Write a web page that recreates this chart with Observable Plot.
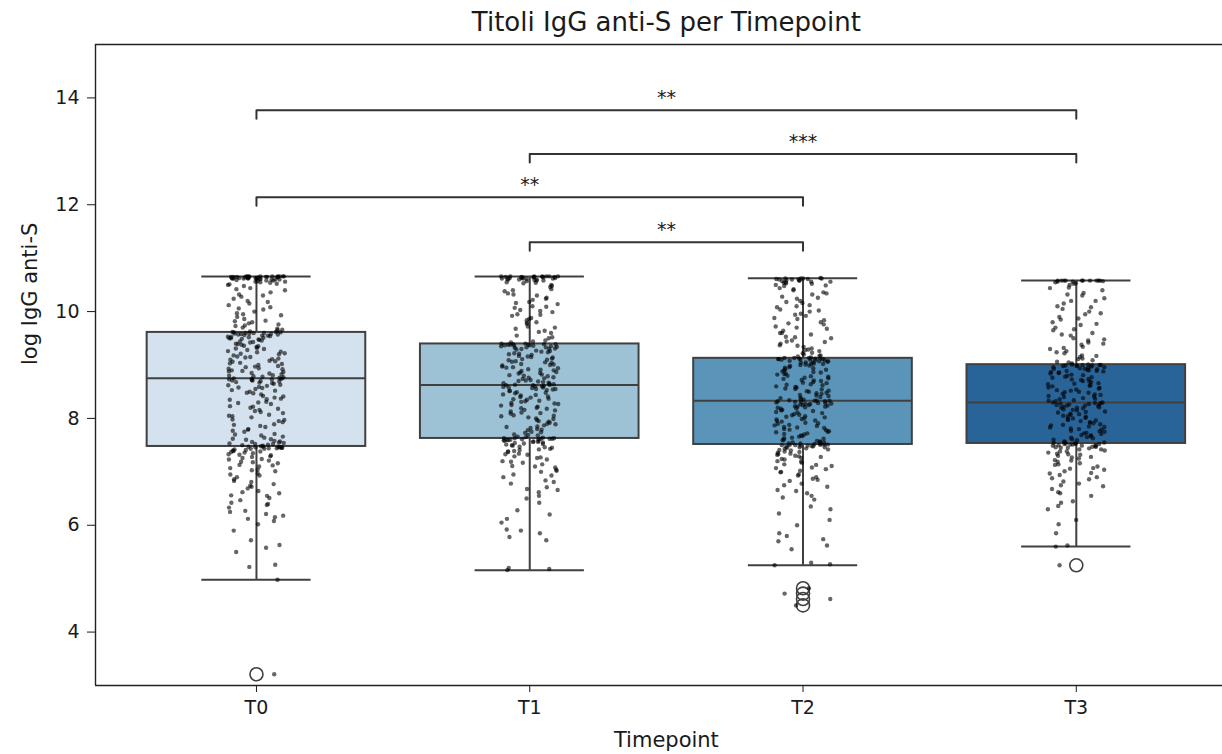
<!DOCTYPE html>
<html>
<head>
<meta charset="utf-8">
<script src="https://cdn.jsdelivr.net/npm/d3@7"></script>
<script src="https://cdn.jsdelivr.net/npm/@observablehq/plot@0.6"></script>
<style>
  html, body { margin: 0; padding: 0; background: #fff; overflow: hidden; }
  #chart svg { display: block; }
</style>
</head>
<body>
<div id="chart"></div>
<script>
// Timepoints and box colours (Blues, desaturated)
const timepoints = ["T0", "T1", "T2", "T3"];
const boxColors = ["#d4e1ee", "#9dc1d5", "#5a94b9", "#296499"];

// Box-plot summary per timepoint
const q1 = [7.475, 7.625, 7.512, 7.531];
const median = [8.75, 8.625, 8.331, 8.30];
const q3 = [9.61, 9.394, 9.125, 9.006];
const whiskerLow = [4.98, 5.157, 5.25, 5.60];
const whiskerHigh = [10.657, 10.657, 10.625, 10.58];

// Fliers beyond the whiskers
const outlierTimepoint = ["T0", "T2", "T2", "T2", "T2", "T3"];
const outlierValue = [3.21, 4.82, 4.72, 4.62, 4.50, 5.25];

// Individual observations (log IgG anti-S)
const valuesT0 = [
  3.21, 4.98, 5.22, 5.26, 5.58, 5.63, 5.72, 6.02, 6.08, 6.12, 6.18, 6.21, 6.27, 6.33, 6.38, 6.42, 6.47, 6.51,
  6.56, 6.6, 6.64, 6.69, 6.72, 6.77, 6.81, 6.86, 6.9, 6.93, 6.97, 7.01, 7.04, 7.07, 7.1, 7.13, 7.16, 7.19,
  7.21, 7.24, 7.26, 7.29, 7.31, 7.33, 7.35, 7.37, 7.39, 7.4, 7.42, 7.43, 7.44, 7.45, 7.46, 7.46, 7.47, 7.47, 7.48,
  7.5, 7.51, 7.52, 7.53, 7.55, 7.56, 7.58, 7.61, 7.62, 7.66, 7.68, 7.71, 7.75, 7.77, 7.8, 7.84, 7.86, 7.89,
  7.93, 7.95, 7.98, 8.02, 8.04, 8.07, 8.1, 8.12, 8.16, 8.18, 8.2, 8.23, 8.27, 8.29, 8.31, 8.35, 8.37, 8.39,
  8.42, 8.45, 8.47, 8.5, 8.52, 8.55, 8.57, 8.59, 8.61, 8.63, 8.65, 8.67, 8.69, 8.7, 8.71, 8.72, 8.73, 8.74, 8.75,
  8.76, 8.78, 8.79, 8.81, 8.83, 8.85, 8.87, 8.88, 8.9, 8.92, 8.94, 8.96, 8.98, 9.0, 9.02, 9.04, 9.06, 9.08,
  9.1, 9.12, 9.14, 9.16, 9.18, 9.2, 9.22, 9.24, 9.26, 9.28, 9.3, 9.32, 9.34, 9.36, 9.38, 9.4, 9.42, 9.44,
  9.46, 9.48, 9.49, 9.5, 9.51, 9.52, 9.53, 9.54, 9.55, 9.56, 9.57, 9.58, 9.59, 9.6, 9.6, 9.61, 9.61, 9.62, 9.63,
  9.65, 9.68, 9.7, 9.73, 9.76, 9.78, 9.8, 9.83, 9.86, 9.9, 9.93, 9.97, 10.0, 10.04, 10.08, 10.12, 10.15, 10.2,
  10.24, 10.28, 10.32, 10.36, 10.4, 10.44, 10.48, 10.5, 10.52, 10.54, 10.55, 10.56, 10.57, 10.58, 10.59, 10.6,
  10.6, 10.61, 10.61, 10.62, 10.62, 10.62, 10.63, 10.63, 10.63, 10.64, 10.64, 10.64, 10.65, 10.65, 10.65,
  10.65, 10.66, 10.66, 10.66, 10.66, 10.66,
  5.5, 5.9, 6.15, 6.25, 6.4, 6.55, 6.62, 6.74, 6.83, 6.95, 7.03, 7.12, 7.18, 7.23, 7.28, 7.32, 7.36, 7.38,
  7.41, 7.43, 7.44, 7.45, 7.46, 7.47, 7.49,
  7.52, 7.54, 7.57, 7.6, 7.64, 7.7, 7.79, 7.88, 7.97, 8.05, 8.14, 8.22, 8.3, 8.36, 8.41, 8.48, 8.53, 8.58,
  8.62, 8.66, 8.68, 8.71, 8.73, 8.74, 8.75,
  8.77, 8.8, 8.84, 8.89, 8.93, 8.97, 9.03, 9.07, 9.11, 9.15, 9.21, 9.25, 9.31, 9.35, 9.39, 9.43, 9.47, 9.5,
  9.53, 9.55, 9.57, 9.58, 9.59, 9.6, 9.62,
  9.66, 9.74, 9.82, 9.95, 10.06, 10.18, 10.3, 10.42, 10.51, 10.56, 10.58, 10.6, 10.61, 10.62, 10.63, 10.63,
  10.64, 10.64, 10.65, 10.65, 10.65, 10.66, 10.66, 10.66, 10.66
];
const valuesT1 = [
  5.16, 5.18, 5.2, 5.72, 5.78, 5.85, 5.92, 6.05, 6.12, 6.28, 6.42, 6.55, 6.62, 6.66, 6.71, 6.78, 6.84, 6.9,
  6.95, 7.0, 7.04, 7.08, 7.11, 7.14, 7.17, 7.2, 7.23, 7.26, 7.29, 7.32, 7.34, 7.37, 7.39, 7.41, 7.43, 7.45,
  7.47, 7.49, 7.51, 7.53, 7.55, 7.56, 7.57, 7.58, 7.59, 7.6, 7.61, 7.62, 7.62, 7.63,
  7.64, 7.66, 7.68, 7.7, 7.73, 7.75, 7.78, 7.8, 7.82, 7.85, 7.87, 7.9, 7.92, 7.95, 7.97, 8.0, 8.02, 8.04,
  8.06, 8.09, 8.11, 8.13, 8.16, 8.18, 8.2, 8.22, 8.25, 8.27, 8.29, 8.31, 8.33, 8.35, 8.37, 8.39, 8.41, 8.43,
  8.45, 8.47, 8.49, 8.51, 8.53, 8.54, 8.55, 8.57, 8.58, 8.59, 8.6, 8.61, 8.62, 8.63,
  8.64, 8.66, 8.67, 8.69, 8.7, 8.72, 8.74, 8.75, 8.77, 8.79, 8.8, 8.82, 8.84, 8.85, 8.87, 8.89, 8.9, 8.92,
  8.94, 8.95, 8.97, 8.99, 9.0, 9.02, 9.04, 9.05, 9.07, 9.09, 9.1, 9.12, 9.14, 9.15, 9.17, 9.19, 9.2, 9.22,
  9.24, 9.25, 9.27, 9.29, 9.3, 9.31, 9.32, 9.33, 9.34, 9.35, 9.36, 9.37, 9.38, 9.39,
  9.42, 9.46, 9.5, 9.55, 9.6, 9.64, 9.68, 9.72, 9.77, 9.8, 9.84, 9.88, 9.92, 9.95, 9.99, 10.03, 10.07, 10.1,
  10.14, 10.18, 10.22, 10.26, 10.3, 10.34, 10.38, 10.42, 10.46, 10.5, 10.53, 10.55, 10.57, 10.58, 10.59, 10.6,
  10.6, 10.61, 10.62, 10.62, 10.63, 10.63, 10.64, 10.64, 10.65, 10.65, 10.65, 10.66, 10.66, 10.66, 10.66, 10.66,
  5.9, 6.2, 6.5, 6.68, 6.81, 6.93, 7.02, 7.1, 7.19, 7.27, 7.33, 7.38, 7.42, 7.46, 7.5, 7.52, 7.54, 7.56,
  7.58, 7.59, 7.6, 7.61, 7.62, 7.63, 7.63,
  7.65, 7.69, 7.74, 7.79, 7.84, 7.89, 7.94, 7.99, 8.05, 8.1, 8.15, 8.19, 8.24, 8.28, 8.32, 8.36, 8.4, 8.44,
  8.48, 8.52, 8.55, 8.58, 8.6, 8.62, 8.63,
  8.65, 8.68, 8.71, 8.76, 8.81, 8.86, 8.91, 8.96, 9.01, 9.06, 9.11, 9.16, 9.21, 9.26, 9.3, 9.33, 9.35, 9.36,
  9.37, 9.38, 9.38, 9.39, 9.39, 9.4, 9.4,
  9.44, 9.52, 9.62, 9.7, 9.79, 9.86, 9.94, 10.01, 10.09, 10.16, 10.24, 10.32, 10.4, 10.48, 10.54, 10.58,
  10.6, 10.61, 10.62, 10.63, 10.64, 10.65, 10.65, 10.66, 10.66
];
const valuesT2 = [
  4.5, 4.62, 4.72, 4.82, 5.25, 5.27, 5.3, 5.55, 5.62, 5.74, 5.8, 5.85, 6.1, 6.22, 6.35, 6.48, 6.55, 6.6,
  6.66, 6.72, 6.78, 6.83, 6.87, 6.9, 6.95, 6.99, 7.02, 7.05, 7.08, 7.11, 7.14, 7.17, 7.2, 7.23, 7.26, 7.28,
  7.3, 7.32, 7.34, 7.36, 7.38, 7.4, 7.42, 7.43, 7.45, 7.46, 7.47, 7.48, 7.49, 7.5, 7.51, 7.51,
  7.52, 7.53, 7.54, 7.55, 7.56, 7.58, 7.6, 7.62, 7.64, 7.66, 7.68, 7.7, 7.72, 7.74, 7.76, 7.78, 7.8, 7.82,
  7.84, 7.86, 7.88, 7.9, 7.92, 7.94, 7.96, 7.98, 8.0, 8.02, 8.04, 8.06, 8.08, 8.1, 8.12, 8.14, 8.16, 8.18,
  8.2, 8.21, 8.22, 8.23, 8.24, 8.25, 8.26, 8.27, 8.28, 8.29, 8.3, 8.31, 8.32, 8.32, 8.33, 8.33,
  8.34, 8.36, 8.38, 8.4, 8.42, 8.44, 8.46, 8.48, 8.5, 8.52, 8.54, 8.56, 8.58, 8.6, 8.62, 8.64, 8.66, 8.68,
  8.7, 8.72, 8.74, 8.76, 8.78, 8.8, 8.82, 8.84, 8.86, 8.88, 8.9, 8.92, 8.94, 8.96, 8.98, 9.0, 9.01, 9.02,
  9.03, 9.04, 9.05, 9.06, 9.07, 9.08, 9.09, 9.1, 9.1, 9.11, 9.11, 9.12, 9.12, 9.13, 9.13, 9.14,
  9.16, 9.18, 9.2, 9.23, 9.26, 9.28, 9.31, 9.34, 9.37, 9.4, 9.43, 9.46, 9.5, 9.53, 9.57, 9.6, 9.64, 9.68,
  9.72, 9.76, 9.8, 9.84, 9.88, 9.92, 9.96, 10.0, 10.04, 10.08, 10.12, 10.16, 10.2, 10.24, 10.28, 10.32,
  10.36, 10.4, 10.44, 10.48, 10.5, 10.52, 10.54, 10.55, 10.56, 10.57, 10.58, 10.59, 10.6, 10.6, 10.61,
  10.62, 10.62, 10.63,
  5.7, 6.0, 6.3, 6.52, 6.64, 6.75, 6.85, 6.93, 7.0, 7.07, 7.13, 7.19, 7.24, 7.29, 7.33, 7.37, 7.41, 7.44,
  7.46, 7.48, 7.49, 7.5, 7.5, 7.51, 7.51,
  7.53, 7.55, 7.57, 7.59, 7.63, 7.67, 7.71, 7.75, 7.79, 7.83, 7.87, 7.91, 7.95, 7.99, 8.03, 8.07, 8.11, 8.15,
  8.19, 8.22, 8.25, 8.27, 8.29, 8.31, 8.33,
  8.35, 8.39, 8.43, 8.47, 8.51, 8.55, 8.59, 8.63, 8.67, 8.71, 8.75, 8.79, 8.83, 8.87, 8.91, 8.95, 8.99, 9.02,
  9.05, 9.07, 9.09, 9.1, 9.11, 9.12, 9.13,
  9.17, 9.22, 9.29, 9.36, 9.44, 9.52, 9.6, 9.7, 9.78, 9.86, 9.94, 10.02, 10.1, 10.18, 10.26, 10.34, 10.42,
  10.49, 10.53, 10.56, 10.58, 10.6, 10.61, 10.62, 10.62
];
const valuesT3 = [
  5.25, 5.6, 5.62, 5.85, 6.02, 6.3, 6.36, 6.42, 6.55, 6.62, 6.68, 6.73, 6.78, 6.82, 6.86, 6.9, 6.94, 6.98,
  7.01, 7.04, 7.07, 7.1, 7.13, 7.16, 7.19, 7.22, 7.25, 7.27, 7.3, 7.32, 7.34, 7.36, 7.38, 7.4, 7.42, 7.44,
  7.45, 7.46, 7.47, 7.48, 7.49, 7.5, 7.51, 7.52, 7.53, 7.53,
  7.54, 7.55, 7.57, 7.59, 7.61, 7.63, 7.65, 7.67, 7.69, 7.71, 7.73, 7.75, 7.77, 7.79, 7.81, 7.83, 7.85, 7.87,
  7.89, 7.91, 7.93, 7.95, 7.97, 7.99, 8.01, 8.03, 8.05, 8.07, 8.09, 8.11, 8.13, 8.15, 8.17, 8.19, 8.2, 8.21,
  8.22, 8.23, 8.24, 8.25, 8.26, 8.27, 8.28, 8.29, 8.3, 8.3,
  8.32, 8.34, 8.36, 8.38, 8.4, 8.42, 8.44, 8.46, 8.48, 8.5, 8.52, 8.54, 8.56, 8.58, 8.6, 8.62, 8.64, 8.66,
  8.68, 8.7, 8.72, 8.74, 8.76, 8.78, 8.8, 8.82, 8.84, 8.86, 8.87, 8.88, 8.89, 8.9, 8.91, 8.92, 8.93, 8.94,
  8.95, 8.96, 8.97, 8.98, 8.99, 8.99, 9.0, 9.0, 9.01, 9.01,
  9.03, 9.06, 9.09, 9.12, 9.15, 9.18, 9.22, 9.26, 9.3, 9.34, 9.38, 9.42, 9.46, 9.5, 9.55, 9.6, 9.65, 9.7,
  9.75, 9.8, 9.85, 9.9, 9.95, 10.0, 10.05, 10.1, 10.15, 10.2, 10.25, 10.3, 10.35, 10.4, 10.45, 10.5, 10.53,
  10.55, 10.56, 10.57, 10.58, 10.58, 10.58, 10.58, 10.58, 10.58, 10.58, 10.58,
  6.1, 6.45, 6.6, 6.75, 6.88, 6.97, 7.06, 7.14, 7.21, 7.28, 7.33, 7.38, 7.42, 7.45, 7.47, 7.49, 7.5, 7.51,
  7.52, 7.53,
  7.56, 7.6, 7.64, 7.68, 7.72, 7.76, 7.8, 7.84, 7.88, 7.92, 7.96, 8.0, 8.04, 8.08, 8.12, 8.16, 8.2, 8.24,
  8.27, 8.29,
  8.33, 8.37, 8.41, 8.45, 8.49, 8.53, 8.57, 8.61, 8.65, 8.69, 8.73, 8.77, 8.81, 8.85, 8.89, 8.93, 8.96, 8.98,
  8.99, 9.0,
  9.05, 9.11, 9.17, 9.24, 9.32, 9.4, 9.48, 9.57, 9.67, 9.77, 9.87, 9.97, 10.08, 10.2, 10.32, 10.44, 10.52,
  10.56, 10.58, 10.58
];

// Pairwise comparisons and their significance stars
const bracketFrom = ["T0", "T1", "T0", "T1"];
const bracketTo = ["T3", "T3", "T2", "T2"];
const bracketLevel = [13.77, 12.95, 12.14, 11.30];
const bracketStars = ["**", "***", "**", "**"];

// ---- derived tables ----
const idx = (t) => timepoints.indexOf(t);
const boxes = timepoints.map((t, i) => ({
  t, i, q1: q1[i], median: median[i], q3: q3[i], lo: whiskerLow[i], hi: whiskerHigh[i]
}));
const outliers = outlierValue.map((v, k) => ({ i: idx(outlierTimepoint[k]), value: v }));

// deterministic horizontal jitter for the strip points
function jitter(k, g) {
  const s = Math.sin(k * 127.1 + g * 311.7 + 1.7) * 43758.5453;
  return (s - Math.floor(s)) - 0.5;
}
const points = [valuesT0, valuesT1, valuesT2, valuesT3].flatMap((vals, g) =>
  vals.map((v, k) => ({ x: g + jitter(k, g) * 0.21, value: v }))
);

const tip = 0.16; // bracket leg length in data units
const bracketPaths = bracketLevel.flatMap((y, b) => {
  const a = idx(bracketFrom[b]), c = idx(bracketTo[b]);
  return [
    { b, x: a, y: y - tip }, { b, x: a, y }, { b, x: c, y }, { b, x: c, y: y - tip }
  ];
});
const bracketText = bracketLevel.map((y, b) => ({
  x: (idx(bracketFrom[b]) + idx(bracketTo[b])) / 2, y, label: bracketStars[b]
}));

const xLo = -0.589, xHi = 3.535;
const ink = "#404040";
const textColor = "#1a1a1a";

const chart = Plot.plot({
  width: 1222,
  height: 754,
  marginTop: 44,
  marginBottom: 69,
  marginLeft: 95,
  marginRight: 0,
  style: { fontFamily: "'DejaVu Sans', sans-serif", fontSize: "19px", color: textColor, background: "#fff" },
  x: { type: "linear", domain: [xLo, xHi] },
  y: { domain: [3, 15] },
  color: { domain: timepoints, range: boxColors },
  marks: [
    // whiskers and caps
    Plot.ruleX(boxes, { x: "i", y1: "q3", y2: "hi", stroke: ink, strokeWidth: 2 }),
    Plot.ruleX(boxes, { x: "i", y1: "lo", y2: "q1", stroke: ink, strokeWidth: 2 }),
    Plot.ruleY(boxes, { y: "hi", x1: (d) => d.i - 0.2, x2: (d) => d.i + 0.2, stroke: ink, strokeWidth: 2 }),
    Plot.ruleY(boxes, { y: "lo", x1: (d) => d.i - 0.2, x2: (d) => d.i + 0.2, stroke: ink, strokeWidth: 2 }),
    // boxes and medians
    Plot.rect(boxes, {
      x1: (d) => d.i - 0.4, x2: (d) => d.i + 0.4, y1: "q1", y2: "q3",
      fill: "t", stroke: ink, strokeWidth: 2
    }),
    Plot.ruleY(boxes, { y: "median", x1: (d) => d.i - 0.4, x2: (d) => d.i + 0.4, stroke: ink, strokeWidth: 2 }),
    // fliers
    Plot.dot(outliers, { x: "i", y: "value", r: 6.5, stroke: ink, strokeWidth: 1.6, fill: "none" }),
    // strip of observations
    Plot.dot(points, { x: "x", y: "value", r: 2.2, fill: "#000", fillOpacity: 0.6, stroke: null }),
    // significance brackets
    Plot.line(bracketPaths, { x: "x", y: "y", z: "b", stroke: "#333", strokeWidth: 2, curve: "linear" }),
    Plot.text(bracketText, { x: "x", y: "y", text: "label", dy: -12, lineAnchor: "middle", fontSize: 19, fill: textColor }),
    // axes
    Plot.axisX({
      ticks: [0, 1, 2, 3], tickFormat: (i) => timepoints[i], tickSize: 7, tickPadding: 8,
      label: null, stroke: textColor, fill: textColor
    }),
    Plot.axisY({
      ticks: [4, 6, 8, 10, 12, 14], tickSize: 8, tickPadding: 8,
      label: null, stroke: textColor, fill: textColor
    }),
    Plot.ruleY([3], { stroke: "#222", strokeWidth: 1.4 }),
    Plot.ruleY([15], { stroke: "#222", strokeWidth: 1.4 }),
    Plot.ruleX([xLo], { stroke: "#222", strokeWidth: 1.4 }),
    // axis titles and chart title
    Plot.text(["Timepoint"], { x: 1.5, frameAnchor: "bottom", dy: 55, lineAnchor: "middle", fontSize: 21, fill: textColor }),
    Plot.text(["log IgG anti-S"], { frameAnchor: "left", dx: -65, rotate: -90, lineAnchor: "middle", fontSize: 21, fill: textColor }),
    Plot.text(["Titoli IgG anti-S per Timepoint"], { x: 1.5, frameAnchor: "top", dy: -22, lineAnchor: "middle", fontSize: 26, fill: textColor })
  ]
});

document.getElementById("chart").appendChild(chart);
</script>
</body>
</html>
